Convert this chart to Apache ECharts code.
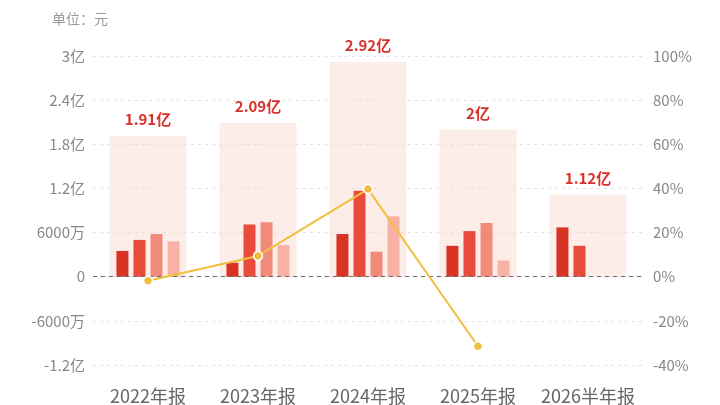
<!DOCTYPE html>
<html lang="zh">
<head>
    <meta charset="UTF-8">
    <title>营收季度分布</title>
    <style>
        html, body { margin: 0; padding: 0; background: #fff; width: 720px; height: 405px; overflow: hidden; }
        #main { width: 720px; height: 405px; }
    </style>
</head>
<body>
    <div id="main"></div>
</body>
</html>
<script src="https://cdn.jsdelivr.net/npm/echarts@6/dist/echarts.min.js"></script>
<script>
    // 单位：亿元
    var years = ['2022年报', '2023年报', '2024年报', '2025年报', '2026半年报'];
    var totals = [1.91, 2.09, 2.92, 2, 1.12];
    var q1 = [0.35, 0.19, 0.58, 0.42, 0.67];
    var q2 = [0.50, 0.71, 1.17, 0.62, 0.42];
    var q3 = [0.58, 0.74, 0.34, 0.73, null];
    var q4 = [0.48, 0.43, 0.82, 0.22, null];
    var growth = [-1.8, 9.4, 39.7, -31.5, null]; // 同比 %
    var qColors = ['#d83424', '#e94b3b', '#f08b79', '#f8b2a5'];

    var font = '"Noto Sans CJK SC", "Noto Sans", sans-serif';

    function fmtMoney(v) {
        if (v === 0) return '0';
        if (Math.abs(v) >= 1) return parseFloat(v.toFixed(2)) + '亿';
        return Math.round(v * 10000) + '万';
    }

    var chart = echarts.init(document.getElementById('main'));

    var quarterSeries = [q1, q2, q3, q4].map(function (d, i) {
        var s = {
            name: 'Q' + (i + 1),
            type: 'bar',
            xAxisIndex: 0,
            yAxisIndex: 0,
            data: d,
            barWidth: 12,
            barGap: '42%',
            itemStyle: { color: qColors[i] },
            z: 3
        };
        if (i === 0) {
            // 零轴虚线
            s.markLine = {
                silent: true,
                symbol: 'none',
                label: { show: false },
                lineStyle: { color: '#666', type: [4, 4], width: 1 },
                data: [{ yAxis: 0 }]
            };
        }
        return s;
    });

    var option = {
        animation: false,
        textStyle: { fontFamily: font },
        graphic: [{
            type: 'text',
            left: 52,
            top: 12,
            style: { text: '单位：元', fill: '#999', fontSize: 14, fontFamily: font }
        }],
        grid: { left: 93, right: 77, top: 56, bottom: 37 },
        xAxis: [{
            type: 'category',
            data: years,
            axisLine: { show: false, onZero: false },
            axisTick: { show: false },
            axisLabel: { color: '#666', fontSize: 18, margin: 22, interval: 0, fontFamily: font }
        }, {
            type: 'category',
            data: years,
            show: false
        }],
        yAxis: [{
            type: 'value',
            min: -1.2,
            max: 3,
            interval: 0.6,
            axisLine: { show: false },
            axisTick: { show: false },
            axisLabel: { color: '#888', fontSize: 15, margin: 8, formatter: fmtMoney, fontFamily: font },
            splitLine: { lineStyle: { color: '#e3e3e3', type: [3, 4] } }
        }, {
            type: 'value',
            min: -40,
            max: 100,
            interval: 20,
            axisLine: { show: false },
            axisTick: { show: false },
            axisLabel: { color: '#888', fontSize: 15, margin: 10, formatter: '{value}%', fontFamily: font },
            splitLine: { show: false }
        }],
        series: [{
            name: '合计',
            type: 'bar',
            xAxisIndex: 1,
            yAxisIndex: 0,
            data: totals,
            barWidth: 77,
            itemStyle: { color: 'rgba(251, 212, 202, 0.42)' },
            label: {
                show: true,
                position: 'top',
                distance: 9,
                color: '#d8312a',
                fontWeight: 'bold',
                fontSize: 15,
                fontFamily: font,
                formatter: function (p) { return fmtMoney(p.value); }
            },
            z: 1
        }].concat(quarterSeries).concat([{
            name: '同比',
            type: 'line',
            xAxisIndex: 0,
            yAxisIndex: 1,
            data: growth,
            symbol: 'circle',
            symbolSize: 9,
            lineStyle: { color: '#f1bf3f', width: 2 },
            itemStyle: { color: '#f1bf3f', borderColor: '#fff', borderWidth: 1.5 },
            z: 5
        }])
    };

    chart.setOption(option);
</script>
